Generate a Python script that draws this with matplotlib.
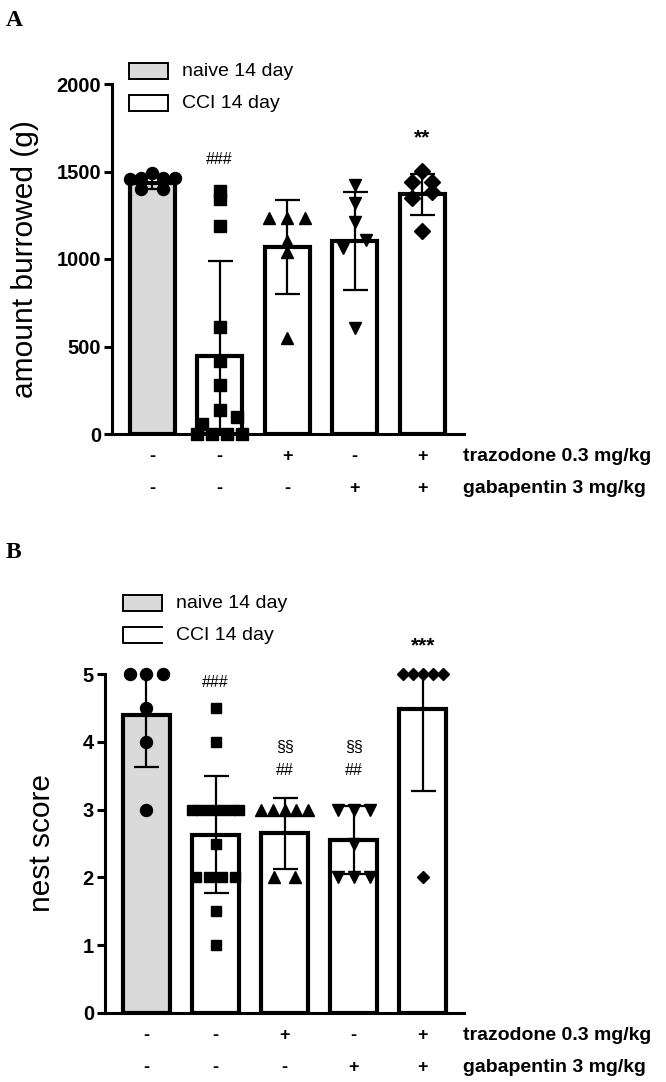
import numpy as np
import matplotlib
matplotlib.use('Agg')
import matplotlib.pyplot as plt
from matplotlib.patches import Rectangle
from matplotlib.lines import Line2D

plt.rcParams['font.family'] = ['Liberation Sans', 'DejaVu Sans']

# ---- data ----
groups = ['naive', 'CCI', 'CCI+trazodone', 'CCI+gabapentin', 'CCI+trazodone+gabapentin']
trazodone = ['-', '-', '+', '-', '+']
gabapentin = ['-', '-', '-', '+', '+']
markers = ['o', 's', '^', 'v', 'D']

burrow_mean = [1434, 446, 1069, 1103, 1371]
burrow_sd = [32, 543, 268, 280, 117]
burrow_pts = [
    [1400, 1460, 1465, 1455, 1460, 1490, 1400],
    [1390, 1340, 1190, 610, 420, 280, 140, 95, 55, 0, 0, 0, 0],
    [1235, 1235, 1235, 1100, 1040, 550],
    [1423, 1320, 1211, 1109, 1063, 606],
    [1503, 1440, 1440, 1383, 1349, 1160],
]
burrow_sig = [('###', 1, 1566), ('**', 4, 1691)]

nest_mean = [4.40, 2.63, 2.65, 2.55, 4.48]
nest_sd = [0.77, 0.86, 0.52, 0.50, 1.20]
nest_pts = [
    [5, 5, 5, 4.5, 4, 3],
    [4.5, 4, 3, 3, 3, 3, 3, 3, 2.5, 2, 2, 2, 2, 1.5, 1],
    [3, 3, 3, 3, 3, 2, 2],
    [3, 3, 3, 2.5, 2, 2, 2],
    [5, 5, 5, 5, 5, 2],
]
nest_sig = [('###', 1, 4.88), ('§§', 2, 3.92), ('##', 2, 3.58),
            ('§§', 3, 3.92), ('##', 3, 3.58), ('***', 4, 5.41)]

W, H = 666, 1082
fig = plt.figure(figsize=(W / 100, H / 100), dpi=100)
grey = '#dadada'


def fx(px):
    return px / W


def fy(py):
    return 1 - py / H


def scatter_offsets(vals, xscale, yscale, msize, halfw):
    # prism-like spreading: points that would overlap are fanned out across the bar
    order = list(np.argsort(vals, kind='stable')[::-1])
    clusters = [[order[0]]]
    for i in order[1:]:
        prev = clusters[-1][-1]
        if (vals[prev] - vals[i]) * yscale < 0.65 * msize:
            clusters[-1].append(i)
        else:
            clusters.append([i])
    res = [0.0] * len(vals)
    for cl in clusters:
        n = len(cl)
        if n == 1:
            continue
        s = min(halfw, n * msize * 0.45)
        pos = np.linspace(-s, s, n)
        pos = sorted(pos, key=lambda p: (round(abs(p), 6), -p))
        for i, p in zip(cl, pos):
            res[i] = p / xscale
    return res


def panel(box, xlim, ylim, yticks, means, sds, pts, msizes, width, sig, ylabel,
          ylabel_x, letter, letter_y, legend, open_legend):
    left, right, top, bottom = box
    ax = fig.add_axes([fx(left), fy(bottom), fx(right - left), (bottom - top) / H])
    x = np.arange(len(means))
    colors = [grey] + ['white'] * (len(means) - 1)
    ax.bar(x, means, width=width, color=colors, edgecolor='black', linewidth=3.0, zorder=2)
    ax.errorbar(x, means, yerr=sds, fmt='none', ecolor='black', elinewidth=1.6,
                capsize=9, capthick=1.6, zorder=4)
    xscale = (right - left) / (xlim[1] - xlim[0])
    yscale = (bottom - top) / (ylim[1] - ylim[0])
    halfw = width * xscale / 2
    for i, p in enumerate(pts):
        offs = scatter_offsets(p, xscale, yscale, msizes[i], halfw)
        ax.plot(x[i] + np.array(offs), p, linestyle='none', marker=markers[i],
                ms=msizes[i] / 1.389, color='black', clip_on=False, zorder=3)
    ax.set_xlim(xlim)
    ax.set_ylim(ylim)
    ax.set_yticks(yticks)
    ax.set_xticks([])
    for s in ['top', 'right']:
        ax.spines[s].set_visible(False)
    for s in ['left', 'bottom']:
        ax.spines[s].set_linewidth(2.2)
    ax.tick_params(axis='y', direction='out', length=6, width=2.2, labelsize=14.5, pad=2)
    for lab in ax.get_yticklabels():
        lab.set_fontweight('bold')
    for txt, i, yv in sig:
        fs = 11.5 if '#' in txt or '§' in txt else 15
        fw = 'bold' if '*' in txt else 'normal'
        ax.text(x[i], yv, txt, ha='center', va='center', fontsize=fs, fontweight=fw,
                clip_on=False)
    # treatment rows
    for i in x:
        ax.annotate(trazodone[i], xy=(i, 0), xycoords=('data', 'axes fraction'),
                    xytext=(0, -16.5), textcoords='offset points', ha='center',
                    va='center', fontsize=13, fontweight='bold')
        ax.annotate(gabapentin[i], xy=(i, 0), xycoords=('data', 'axes fraction'),
                    xytext=(0, -39), textcoords='offset points', ha='center',
                    va='center', fontsize=13, fontweight='bold')
    ax.annotate('trazodone 0.3 mg/kg', xy=(1, 0), xycoords='axes fraction',
                xytext=(-1, -16.5), textcoords='offset points', ha='left',
                va='center', fontsize=14, fontweight='bold')
    ax.annotate('gabapentin 3 mg/kg', xy=(1, 0), xycoords='axes fraction',
                xytext=(-1, -39), textcoords='offset points', ha='left',
                va='center', fontsize=14, fontweight='bold')
    fig.text(fx(ylabel_x), fy((top + bottom) / 2), ylabel, rotation=90, ha='center',
             va='center', fontsize=21.5)
    fig.text(fx(6), fy(letter_y), letter, ha='left', va='center', fontsize=17,
             fontweight='bold', family='Liberation Serif')
    # legend
    bx0, bx1, ys, tx = legend
    for j, (yc, lab) in enumerate(zip(ys, ['naive 14 day', 'CCI 14 day'])):
        fc = grey if j == 0 else 'white'
        if open_legend and j == 1:
            xs = [fx(bx1), fx(bx0), fx(bx0), fx(bx1)]
            yy = [fy(yc - 8), fy(yc - 8), fy(yc + 8), fy(yc + 8)]
            fig.add_artist(Line2D(xs, yy, color='black', lw=1.4))
        else:
            fig.add_artist(Rectangle((fx(bx0), fy(yc + 8)), fx(bx1 - bx0), 16 / H,
                                     facecolor=fc, edgecolor='black', lw=1.4))
        fig.text(fx(tx), fy(yc), lab, ha='left', va='center', fontsize=14)
    return ax


panel((112, 464, 84, 434), (-0.593, 4.622), (0, 2000), [0, 500, 1000, 1500, 2000],
      burrow_mean, burrow_sd, burrow_pts, [12, 13, 13, 13, 11], 0.667, burrow_sig,
      'amount burrowed (g)', 25, 'A', 20, (129, 168, (71, 103), 182), False)

panel((105, 464, 674, 1013), (-0.60, 4.595), (0, 5), [0, 1, 2, 3, 4, 5],
      nest_mean, nest_sd, nest_pts, [12, 11, 12, 12, 9], 0.68, nest_sig,
      'nest score', 42, 'B', 553, (123, 162, (603, 635), 176), True)

fig.savefig('out.png', dpi=100)
